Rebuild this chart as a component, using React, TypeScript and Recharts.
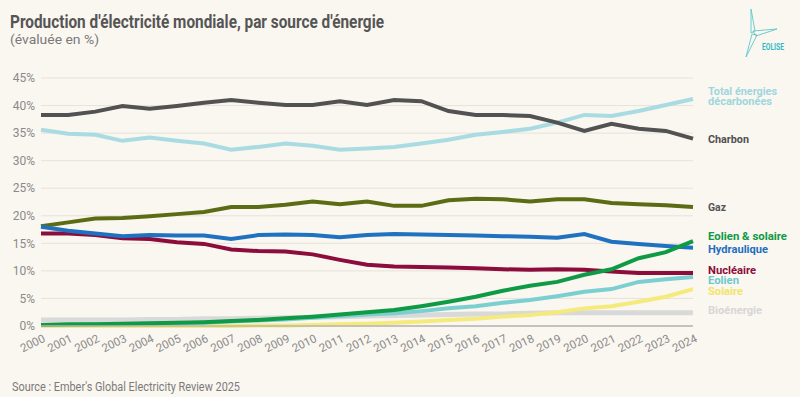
import React from "react";
import { LineChart, Line, XAxis, YAxis, CartesianGrid } from "recharts";

const years = ["2000","2001","2002","2003","2004","2005","2006","2007","2008","2009","2010","2011","2012","2013","2014","2015","2016","2017","2018","2019","2020","2021","2022","2023","2024"];
const yTicks = [0, 5, 10, 15, 20, 25, 30, 35, 40, 45];

const charbon = [38.3,38.3,38.9,39.9,39.4,39.9,40.5,41.0,40.5,40.1,40.1,40.8,40.1,41.0,40.8,39.0,38.3,38.3,38.1,36.9,35.4,36.7,35.8,35.4,34.0];
const totalDecarbone = [35.6,34.9,34.7,33.6,34.2,33.6,33.1,32.0,32.5,33.1,32.7,32.0,32.2,32.5,33.1,33.8,34.7,35.2,35.8,36.9,38.3,38.1,39.0,40.1,41.2];
const gaz = [18.1,18.8,19.5,19.6,19.9,20.3,20.7,21.6,21.6,22.0,22.6,22.1,22.6,21.8,21.8,22.8,23.1,23.0,22.6,23.0,23.0,22.3,22.1,21.9,21.6];
const hydraulique = [18.0,17.3,16.8,16.3,16.5,16.4,16.4,15.8,16.5,16.6,16.5,16.1,16.5,16.7,16.6,16.5,16.4,16.3,16.2,16.0,16.7,15.3,14.9,14.5,14.2];
const nucleaire = [16.8,16.8,16.5,15.9,15.8,15.2,14.9,13.9,13.6,13.5,13.0,12.0,11.1,10.8,10.7,10.6,10.5,10.3,10.2,10.3,10.2,9.9,9.6,9.6,9.6];
const eolienSolaire = [0.2,0.3,0.3,0.4,0.5,0.6,0.7,0.9,1.1,1.4,1.7,2.1,2.5,2.9,3.6,4.4,5.3,6.4,7.3,8.0,9.3,10.3,12.3,13.4,15.4];
const eolien = [0.2,0.2,0.3,0.3,0.4,0.5,0.6,0.8,1.0,1.2,1.5,1.8,2.1,2.3,2.7,3.2,3.6,4.2,4.7,5.4,6.2,6.7,8.0,8.5,8.9];
const solaire = [0.0,0.0,0.0,0.0,0.0,0.0,0.0,0.0,0.1,0.1,0.2,0.3,0.4,0.6,0.8,1.1,1.3,1.7,2.0,2.5,3.2,3.6,4.4,5.3,6.7];
const bioenergie = [1.1,1.1,1.1,1.1,1.2,1.2,1.3,1.3,1.4,1.5,1.6,1.7,1.8,1.9,2.0,2.1,2.2,2.2,2.3,2.4,2.4,2.4,2.4,2.4,2.4];

const data = years.map((year, i) => ({
  year,
  charbon: charbon[i],
  total: totalDecarbone[i],
  gaz: gaz[i],
  hydraulique: hydraulique[i],
  nucleaire: nucleaire[i],
  eolienSolaire: eolienSolaire[i],
  eolien: eolien[i],
  solaire: solaire[i],
  bio: bioenergie[i],
}));

const FONT = "Roboto, 'DejaVu Sans', sans-serif";

type LabelSpec = { lines: string[]; color: string; dy: number; widths: number[] };

const makeLabel = (spec: LabelSpec) => (props: any) => {
  const { x, y, index } = props;
  if (index !== data.length - 1 || x == null || y == null) return null;
  const lh = 10.5;
  const startY = y + spec.dy - ((spec.lines.length - 1) * lh) / 2;
  return (
    <g>
      {spec.lines.map((t, i) => (
        <text
          key={i}
          x={x + 15}
          y={startY + i * lh}
          dy="0.35em"
          fill={spec.color}
          fontFamily={FONT}
          fontWeight={700}
          fontSize={11}
          textLength={spec.widths[i]}
          lengthAdjust="spacingAndGlyphs"
        >
          {t}
        </text>
      ))}
    </g>
  );
};

const XTick = (props: any) => {
  const { x, y, payload } = props;
  return (
    <g transform={`translate(${x},${y})`}>
      <text
        transform="translate(-8,18) rotate(-26)"
        textAnchor="middle"
        dominantBaseline="middle"
        fill="#8a8a8a"
        fontFamily={FONT}
        fontSize={11.5}
      >
        {payload.value}
      </text>
    </g>
  );
};

const YTick = (props: any) => {
  const { x, y, payload } = props;
  return (
    <text
      x={x - 6}
      y={y}
      dy="0.35em"
      textAnchor="end"
      fill="#8a8a8a"
      fontFamily={FONT}
      fontSize={12}
    >
      {payload.value}%
    </text>
  );
};

export default function App() {
  const bg = "#faf6f0";
  return (
    <div style={{ position: "absolute", left: 0, top: 0, width: 800, height: 397, background: bg, overflow: "hidden" }}>
      <LineChart
        width={800}
        height={397}
        data={data}
        margin={{ top: 78, right: 107, bottom: 31, left: 0 }}
      >
        <CartesianGrid horizontal vertical={false} stroke="#e7e2da" strokeWidth={1} />
        <XAxis
          dataKey="year"
          interval={0}
          tickLine={false}
          axisLine={{ stroke: "#b5b5b5", strokeWidth: 1.5 }}
          tickSize={0}
          tickMargin={0}
          height={40}
          tick={<XTick />}
        />
        <YAxis
          domain={[0, 45]}
          ticks={yTicks}
          width={41}
          axisLine={false}
          tickLine={false}
          tickSize={0}
          tickMargin={0}
          tick={<YTick />}
        />
        <Line dataKey="bio" stroke="#d9d9d9" strokeWidth={5} dot={false} isAnimationActive={false}
          label={makeLabel({ lines: ["Bioénergie"], color: "#d6d6d6", dy: -3, widths: [54] })} />
        <Line dataKey="solaire" stroke="#f5ea7c" strokeWidth={4} dot={false} isAnimationActive={false}
          label={makeLabel({ lines: ["Solaire"], color: "#f2e46a", dy: 2, widths: [35] })} />
        <Line dataKey="eolien" stroke="#7ccfd0" strokeWidth={4} dot={false} isAnimationActive={false}
          label={makeLabel({ lines: ["Eolien"], color: "#6cc9cb", dy: 3, widths: [31] })} />
        <Line dataKey="total" stroke="#a9dce2" strokeWidth={4} dot={false} isAnimationActive={false}
          label={makeLabel({ lines: ["Total énergies", "décarbonées"], color: "#9fd6de", dy: -3, widths: [69, 64] })} />
        <Line dataKey="nucleaire" stroke="#8c0c3c" strokeWidth={4} dot={false} isAnimationActive={false}
          label={makeLabel({ lines: ["Nucléaire"], color: "#8c0c3c", dy: -3, widths: [48] })} />
        <Line dataKey="gaz" stroke="#5c6c14" strokeWidth={4} dot={false} isAnimationActive={false}
          label={makeLabel({ lines: ["Gaz"], color: "#555555", dy: 0, widths: [18] })} />
        <Line dataKey="hydraulique" stroke="#1f72c0" strokeWidth={4} dot={false} isAnimationActive={false}
          label={makeLabel({ lines: ["Hydraulique"], color: "#1f6fc0", dy: 1, widths: [60] })} />
        <Line dataKey="charbon" stroke="#525252" strokeWidth={4} dot={false} isAnimationActive={false}
          label={makeLabel({ lines: ["Charbon"], color: "#505050", dy: 1, widths: [41] })} />
        <Line dataKey="eolienSolaire" stroke="#0f9a45" strokeWidth={4} dot={false} isAnimationActive={false}
          label={makeLabel({ lines: ["Eolien & solaire"], color: "#0f9a45", dy: -5, widths: [79] })} />
      </LineChart>
      <svg width={800} height={397} style={{ position: "absolute", left: 0, top: 0, pointerEvents: "none" }}>
        <text x={10} y={28} fill="#555555" fontFamily={FONT} fontWeight={700} fontSize={19}
          textLength={374} lengthAdjust="spacingAndGlyphs">
          Production d'électricité mondiale, par source d'énergie
        </text>
        <text x={10} y={44} fill="#7a7a7a" fontFamily={FONT} fontSize={13}
          textLength={89} lengthAdjust="spacingAndGlyphs">
          (évaluée en %)
        </text>
        <text x={12} y={391} fill="#7a7a7a" fontFamily={FONT} fontSize={12}
          textLength={228} lengthAdjust="spacingAndGlyphs">
          Source : Ember's Global Electricity Review 2025
        </text>
        <g stroke="#5cc8cc" strokeWidth={0.9} fill="none">
          <polyline points="751,9 755,31 751,33 751,9" />
          <polyline points="753,31 777,29 756,36 753,31" />
          <polyline points="752,34 757,35 746,57 752,34" />
        </g>
        <text x={762} y={50} fill="#2fbcc4" fontFamily={FONT} fontWeight={700} fontSize={9}
          textLength={22} lengthAdjust="spacingAndGlyphs">
          EOLISE
        </text>
      </svg>
    </div>
  );
}
